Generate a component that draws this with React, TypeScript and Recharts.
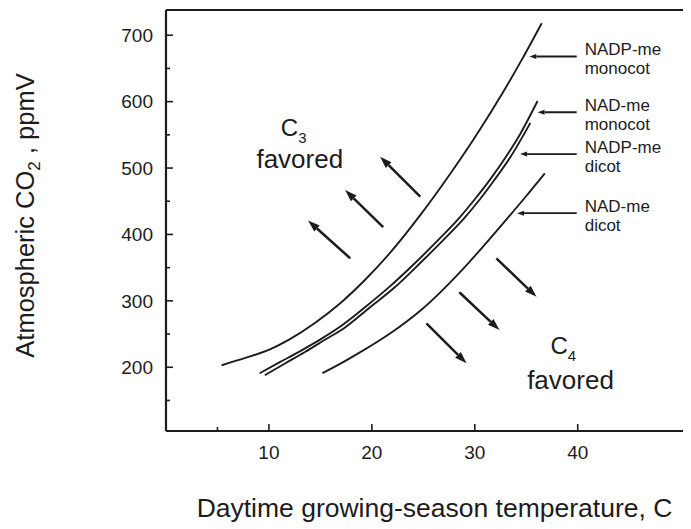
import React from 'react';
import { LineChart, Line, XAxis, YAxis, ReferenceLine, ReferenceDot, Label } from 'recharts';

const FONT = '"Liberation Sans", Arial, Helvetica, sans-serif';
const INK = '#1c1c1c';

// Threshold curves: daytime temperature (°C) vs atmospheric CO2 (ppmV)
const nadpMonocotT = [5.4, 7.7, 10.1, 12.0, 14.5, 16.9, 19.3, 21.7, 24.7, 27.6, 30.0, 32.7, 34.6, 36.5];
const nadpMonocotCO2 = [203, 214, 227, 242, 267, 296, 331, 371, 429, 491, 546, 613, 664, 718];
const nadMonocotT = [9.1, 11.1, 13.0, 15.0, 16.9, 19.3, 21.7, 24.2, 26.6, 28.5, 30.0, 31.5, 32.9, 34.4, 36.1];
const nadMonocotCO2 = [191, 208, 224, 242, 261, 290, 321, 357, 394, 425, 453, 483, 514, 551, 601];
const nadpDicotT = [9.6, 11.6, 13.5, 15.4, 17.4, 19.8, 22.2, 24.7, 27.1, 29.0, 30.5, 31.9, 33.4, 35.4];
const nadpDicotCO2 = [188, 206, 223, 241, 260, 290, 320, 357, 394, 425, 453, 482, 515, 568];
const nadDicotT = [15.2, 16.9, 18.8, 20.8, 22.7, 24.7, 26.6, 28.5, 30.2, 31.5, 33.1, 34.9, 36.8];
const nadDicotCO2 = [191, 205, 222, 241, 261, 285, 312, 342, 371, 394, 423, 456, 492];

// Direction arrows (tail -> head), in data units [T, CO2]
const c3ArrowTail = [[24.7, 457], [21.1, 411], [17.9, 364]];
const c3ArrowHead = [[20.8, 517], [17.4, 467], [13.8, 421]];
const c4ArrowTail = [[32.1, 364], [28.5, 313], [25.3, 266]];
const c4ArrowHead = [[36.0, 306], [32.4, 256], [29.2, 206]];

// Curve labels with pointer arrows
const pathwayNames = ['NADP-me', 'NAD-me', 'NADP-me', 'NAD-me'];
const pathwayGroups = ['monocot', 'monocot', 'dicot', 'dicot'];
const pointerTailT = [39.9, 39.9, 39.9, 39.9];
const pointerHeadT = [35.3, 36.1, 34.4, 34.1];
const pointerCO2 = [668, 584, 521, 432];

// Region labels
const regionSubs = ['3', '4'];
const regionWord = 'favored';
const regionTitleAt = [[12.4, 548], [38.6, 220]];
const regionWordAt = [[13.0, 500], [39.3, 168]];

// Axes
const xDomain = [0, 51.2];
const yDomain = [104, 738];
const xBottomTicks = [5, 10, 20, 30, 40];
const xTopTicks = [5, 10, 15, 20, 25, 30, 35, 40];
const yLeftTicks = [150, 200, 250, 300, 350, 400, 450, 500, 550, 600, 650, 700];
const yRightTicks = [250, 300, 350, 400, 450, 500, 550, 600, 650, 700];
const xLabeled = [10, 20, 30, 40];
const yLabeled = [200, 300, 400, 500, 600, 700];

const toPts = (t: number[], c: number[]) => t.map((v, i) => ({ t: v, co2: c[i] }));
const curves = [
  toPts(nadpMonocotT, nadpMonocotCO2),
  toPts(nadMonocotT, nadMonocotCO2),
  toPts(nadpDicotT, nadpDicotCO2),
  toPts(nadDicotT, nadDicotCO2),
];

const BottomTick = (p: any) => {
  const { x, y, payload } = p;
  const major = xLabeled.includes(payload.value);
  return (
    <g>
      <line x1={x} x2={x} y1={y} y2={y - (major ? 7 : 4)} stroke={INK} strokeWidth={1.6} />
      {major && (
        <text x={x} y={y + 28} textAnchor="middle" fontSize={19} fontFamily={FONT} fill={INK}>
          {payload.value}
        </text>
      )}
    </g>
  );
};

const TopTick = (p: any) => {
  const { x, y, payload } = p;
  const major = payload.value % 10 === 0;
  return <line x1={x} x2={x} y1={y} y2={y + (major ? 10 : 5)} stroke={INK} strokeWidth={1.4} />;
};

const LeftTick = (p: any) => {
  const { x, y, payload } = p;
  const major = payload.value % 100 === 0;
  return (
    <g>
      <line x1={x} x2={x + (major ? 7 : 4)} y1={y} y2={y} stroke={INK} strokeWidth={1.6} />
      {yLabeled.includes(payload.value) && (
        <text x={x - 13} y={y} dy="0.36em" textAnchor="end" fontSize={19} fontFamily={FONT} fill={INK}>
          {payload.value}
        </text>
      )}
    </g>
  );
};

const RightTick = (p: any) => {
  const { x, y } = p;
  return <line x1={x} x2={x - 6} y1={y} y2={y} stroke={INK} strokeWidth={1.4} />;
};

const YTitle = (props: any) => {
  const vb = props.viewBox || {};
  const x = (vb.x ?? 0) + 26;
  const y = (vb.y ?? 0) + (vb.height ?? 0) / 2 - 5;
  return (
    <text transform={`rotate(-90 ${x} ${y})`} x={x} y={y} textAnchor="middle" fontSize={25.5} fontFamily={FONT} fill={INK}>
      Atmospheric CO<tspan fontSize={17} dy={6}>2</tspan>
      <tspan dy={-6}> , ppmV</tspan>
    </text>
  );
};

const arrowShape = (headLen: number, headW: number, sw: number) => (p: any) => {
  const { x1, y1, x2, y2 } = p;
  const dx = x2 - x1;
  const dy = y2 - y1;
  const len = Math.hypot(dx, dy) || 1;
  const ux = dx / len;
  const uy = dy / len;
  const bx = x2 - ux * headLen;
  const by = y2 - uy * headLen;
  const px = (-uy * headW) / 2;
  const py = (ux * headW) / 2;
  return (
    <g>
      <line x1={x1} y1={y1} x2={bx} y2={by} stroke={INK} strokeWidth={sw} />
      <polygon points={`${x2},${y2} ${bx + px},${by + py} ${bx - px},${by - py}`} fill={INK} />
    </g>
  );
};

const bigArrow = arrowShape(12, 8, 2.5);
const smallArrow = arrowShape(7, 5, 1.8);

const pointerShape = (name: string, group: string) => (p: any) => (
  <g>
    {smallArrow(p)}
    <text x={p.x1 + 8} y={p.y1 - 1} fontSize={17} fontFamily={FONT} fill={INK}>{name}</text>
    <text x={p.x1 + 8} y={p.y1 + 18} fontSize={17} fontFamily={FONT} fill={INK}>{group}</text>
  </g>
);

const titleShape = (sub: string) => (p: any) => (
  <text x={p.cx} y={p.cy} textAnchor="middle" fontSize={24} fontFamily={FONT} fill={INK}>
    C<tspan fontSize={15} dy={7}>{sub}</tspan>
  </text>
);

const wordShape = (word: string) => (p: any) => (
  <text x={p.cx} y={p.cy} textAnchor="middle" fontSize={26} fontFamily={FONT} fill={INK}>
    {word}
  </text>
);

export default function App() {
  return (
    <div style={{ width: 683, height: 521, overflow: 'hidden', background: '#fff' }}>
      <LineChart width={700} height={521} margin={{ top: 0, right: 0, bottom: 0, left: 0 }}>
        <XAxis
          xAxisId="b"
          orientation="bottom"
          type="number"
          dataKey="t"
          domain={xDomain}
          ticks={xBottomTicks}
          interval={0}
          tickSize={0}
          tickMargin={0}
          tickLine={false}
          tick={<BottomTick />}
          axisLine={{ stroke: INK, strokeWidth: 2 }}
          height={98}
        >
          <Label
            value="Daytime growing-season temperature, C"
            position="insideBottom"
            offset={12}
            dx={5}
            fontSize={26.5}
            fontFamily={FONT}
            fill={INK}
          />
        </XAxis>
        <XAxis
          xAxisId="top"
          orientation="top"
          type="number"
          dataKey="t"
          domain={xDomain}
          ticks={xTopTicks}
          interval={0}
          tickSize={0}
          tickMargin={0}
          tickLine={false}
          tick={<TopTick />}
          axisLine={{ stroke: INK, strokeWidth: 2 }}
          height={2}
        />
        <YAxis
          yAxisId="l"
          orientation="left"
          type="number"
          domain={yDomain}
          ticks={yLeftTicks}
          interval={0}
          tickSize={0}
          tickMargin={0}
          tickLine={false}
          tick={<LeftTick />}
          axisLine={{ stroke: INK, strokeWidth: 2.2 }}
          width={158}
        >
          <Label content={<YTitle />} />
        </YAxis>
        <YAxis
          yAxisId="r"
          orientation="right"
          type="number"
          domain={yDomain}
          ticks={yRightTicks}
          interval={0}
          tickSize={0}
          tickMargin={0}
          tickLine={false}
          tick={<RightTick />}
          axisLine={{ stroke: INK, strokeWidth: 2 }}
          width={15}
        />
        {curves.map((d, i) => (
          <Line
            key={i}
            xAxisId="b"
            yAxisId="l"
            data={d}
            dataKey="co2"
            type="monotone"
            stroke={INK}
            strokeWidth={1.9}
            dot={false}
            activeDot={false}
            isAnimationActive={false}
          />
        ))}
        {c3ArrowTail.map((tail, i) => (
          <ReferenceLine
            key={`c3-${i}`}
            xAxisId="b"
            yAxisId="l"
            segment={[{ x: tail[0], y: tail[1] }, { x: c3ArrowHead[i][0], y: c3ArrowHead[i][1] }]}
            shape={bigArrow}
          />
        ))}
        {c4ArrowTail.map((tail, i) => (
          <ReferenceLine
            key={`c4-${i}`}
            xAxisId="b"
            yAxisId="l"
            segment={[{ x: tail[0], y: tail[1] }, { x: c4ArrowHead[i][0], y: c4ArrowHead[i][1] }]}
            shape={bigArrow}
          />
        ))}
        {pathwayNames.map((name, i) => (
          <ReferenceLine
            key={`p-${i}`}
            xAxisId="b"
            yAxisId="l"
            segment={[{ x: pointerTailT[i], y: pointerCO2[i] }, { x: pointerHeadT[i], y: pointerCO2[i] }]}
            shape={pointerShape(name, pathwayGroups[i])}
          />
        ))}
        {regionSubs.map((sub, i) => (
          <ReferenceDot
            key={`rt-${i}`}
            xAxisId="b"
            yAxisId="l"
            x={regionTitleAt[i][0]}
            y={regionTitleAt[i][1]}
            r={0}
            shape={titleShape(sub)}
          />
        ))}
        {regionSubs.map((sub, i) => (
          <ReferenceDot
            key={`rw-${i}`}
            xAxisId="b"
            yAxisId="l"
            x={regionWordAt[i][0]}
            y={regionWordAt[i][1]}
            r={0}
            shape={wordShape(regionWord)}
          />
        ))}
      </LineChart>
    </div>
  );
}
